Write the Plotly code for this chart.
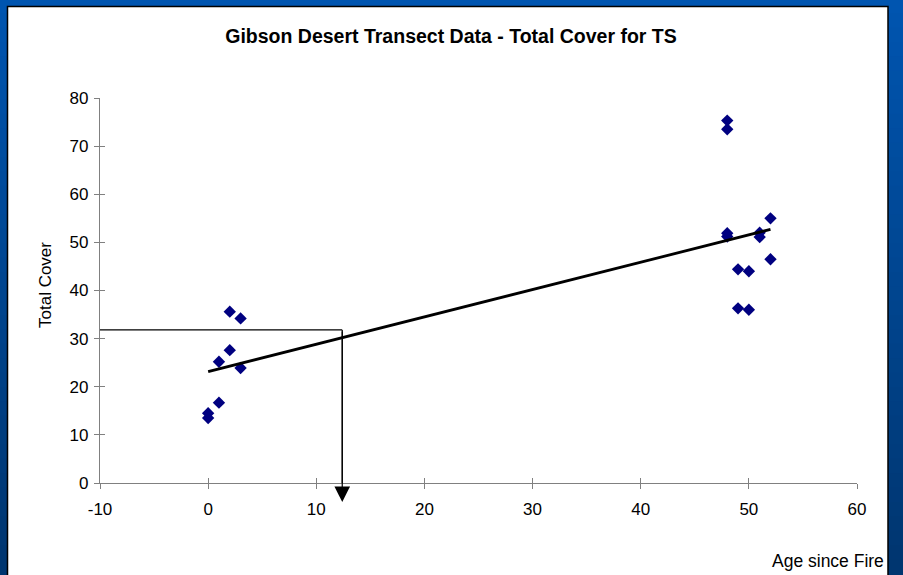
import numpy as np
import plotly.graph_objects as go

# ---- data ----
age_since_fire = [0, 0, 1, 1, 2, 2, 3, 3,
                  48, 48, 48, 48, 49, 49, 50, 50, 51, 51, 52, 52]
total_cover = [14.5, 13.5, 16.7, 25.2, 35.6, 27.6, 34.2, 23.9,
               75.3, 73.5, 51.9, 51.2, 44.4, 36.3, 44.0, 36.0, 52.0, 51.1, 55.0, 46.5]
x_ticks = [-10, 0, 10, 20, 30, 40, 50, 60]
y_ticks = [0, 10, 20, 30, 40, 50, 60, 70, 80]
guide_age = 12.4      # x where the guide arrow drops
guide_cover = 31.8    # y of the horizontal guide line

title_text = "Gibson Desert Transect Data - Total Cover for TS"
x_title = "Age since Fire"
y_title = "Total Cover"

# linear trendline (least squares over the data, drawn across the data range)
slope, intercept = np.polyfit(age_since_fire, total_cover, 1)
trend_x = [min(age_since_fire), max(age_since_fire)]
trend_y = [intercept + slope * v for v in trend_x]

# ---- layout geometry (pixels) ----
W, H = 903, 575
L, R, T, B = 100, 46, 98, 92
PW, PH = W - L - R, H - T - B


def px_x(p):
    return (p - L) / PW


def px_y(p):
    return (H - B - p) / PH


FONT = "Liberation Sans, Arial, sans-serif"

fig = go.Figure()
fig.add_trace(go.Scatter(
    x=age_since_fire, y=total_cover, mode="markers",
    marker=dict(symbol="diamond", size=9.5, color="#000080"),
    showlegend=False, hoverinfo="skip"))
fig.add_trace(go.Scatter(
    x=trend_x, y=trend_y, mode="lines",
    line=dict(color="black", width=2.8),
    showlegend=False, hoverinfo="skip"))
# invisible traces to activate overlay axes (for cross ticks)
fig.add_trace(go.Scatter(x=[None], y=[None], xaxis="x2", yaxis="y",
                         showlegend=False, hoverinfo="skip"))
fig.add_trace(go.Scatter(x=[None], y=[None], xaxis="x", yaxis="y2",
                         showlegend=False, hoverinfo="skip"))

shapes = []
# gradient blue background bands
n_bands = 40
top_c = np.array([0x00, 0x55, 0xB0])
bot_c = np.array([0x00, 0x36, 0x70])
y_top = px_y(0)
y_bot = px_y(H)
for i in range(n_bands):
    f = i / (n_bands - 1)
    c = top_c + (bot_c - top_c) * f
    ya = y_top - (y_top - y_bot) * i / n_bands
    yb = y_top - (y_top - y_bot) * (i + 1) / n_bands
    shapes.append(dict(type="rect", xref="paper", yref="paper",
                       x0=px_x(-5), x1=px_x(W + 5), y0=yb - 0.003, y1=ya + 0.003,
                       fillcolor="rgb(%d,%d,%d)" % tuple(c.astype(int)),
                       line=dict(width=0), layer="below"))
# white panel with thin dark border
shapes.append(dict(type="rect", xref="paper", yref="paper",
                   x0=px_x(7.5), x1=px_x(888), y0=px_y(H + 10), y1=px_y(6.5),
                   fillcolor="white", line=dict(color="black", width=1.5),
                   layer="below"))
# guide lines
shapes.append(dict(type="line", xref="x", yref="y",
                   x0=x_ticks[0], x1=guide_age, y0=guide_cover, y1=guide_cover,
                   line=dict(color="black", width=1.2)))
shapes.append(dict(type="line", xref="x", yref="y",
                   x0=guide_age, x1=guide_age, y0=guide_cover, y1=0,
                   line=dict(color="black", width=1.2)))

annotations = [
    dict(text=y_title, xref="paper", yref="paper", x=px_x(45), y=px_y(285),
         textangle=-90, showarrow=False, xanchor="center", yanchor="middle",
         font=dict(family=FONT, size=17, color="black")),
    dict(text=x_title, xref="paper", yref="paper", x=px_x(886), y=px_y(561),
         showarrow=False, xanchor="right", yanchor="middle",
         font=dict(family=FONT, size=17.5, color="black")),
    dict(text="", xref="x", yref="paper", x=guide_age, y=px_y(502),
         showarrow=True, ax=0, ay=-(502 - 330), axref="pixel", ayref="pixel",
         arrowhead=2, arrowsize=2.6, arrowwidth=1.2, arrowcolor="black"),
]

axis_common = dict(showgrid=False, zeroline=False, linecolor="#808080",
                   tickcolor="#808080", tickwidth=1, ticklen=5)

fig.update_layout(
    width=W, height=H, autosize=False,
    margin=dict(l=L, r=R, t=T, b=B, pad=0),
    paper_bgcolor="#003E80", plot_bgcolor="white",
    title=dict(text="<b>%s</b>" % title_text, x=451 / W,
               xref="container", y=1 - 36 / H, yref="container",
               xanchor="center", yanchor="middle",
               font=dict(family=FONT, size=19.5, color="black")),
    font=dict(family=FONT, size=17, color="black"),
    xaxis=dict(range=[x_ticks[0], x_ticks[-1]], tickvals=x_ticks,
               ticktext=[str(v) for v in x_ticks], showline=True, linewidth=1.2,
               ticks="outside", anchor="y", ticklabelstandoff=5,
               tickfont=dict(family=FONT, size=17, color="black"), **axis_common),
    xaxis2=dict(range=[x_ticks[0], x_ticks[-1]], tickvals=x_ticks, overlaying="x",
                anchor="y", side="bottom", showline=False, ticks="inside",
                showticklabels=False, **axis_common),
    yaxis=dict(range=[y_ticks[0], y_ticks[-1]], tickvals=y_ticks,
               ticktext=[str(v) for v in y_ticks], showline=True, linewidth=1.2,
               ticks="outside", anchor="x", ticklabelstandoff=2,
               tickfont=dict(family=FONT, size=17, color="black"), **axis_common),
    yaxis2=dict(range=[y_ticks[0], y_ticks[-1]], tickvals=y_ticks, overlaying="y",
                anchor="x", side="left", showline=False, ticks="inside",
                showticklabels=False, **axis_common),
    shapes=shapes,
    annotations=annotations,
    showlegend=False,
)

fig.write_html("out.html",
               config={"displayModeBar": False, "staticPlot": True},
               post_script="document.body.style.margin='0px';"
                           "document.body.style.overflow='hidden';")
